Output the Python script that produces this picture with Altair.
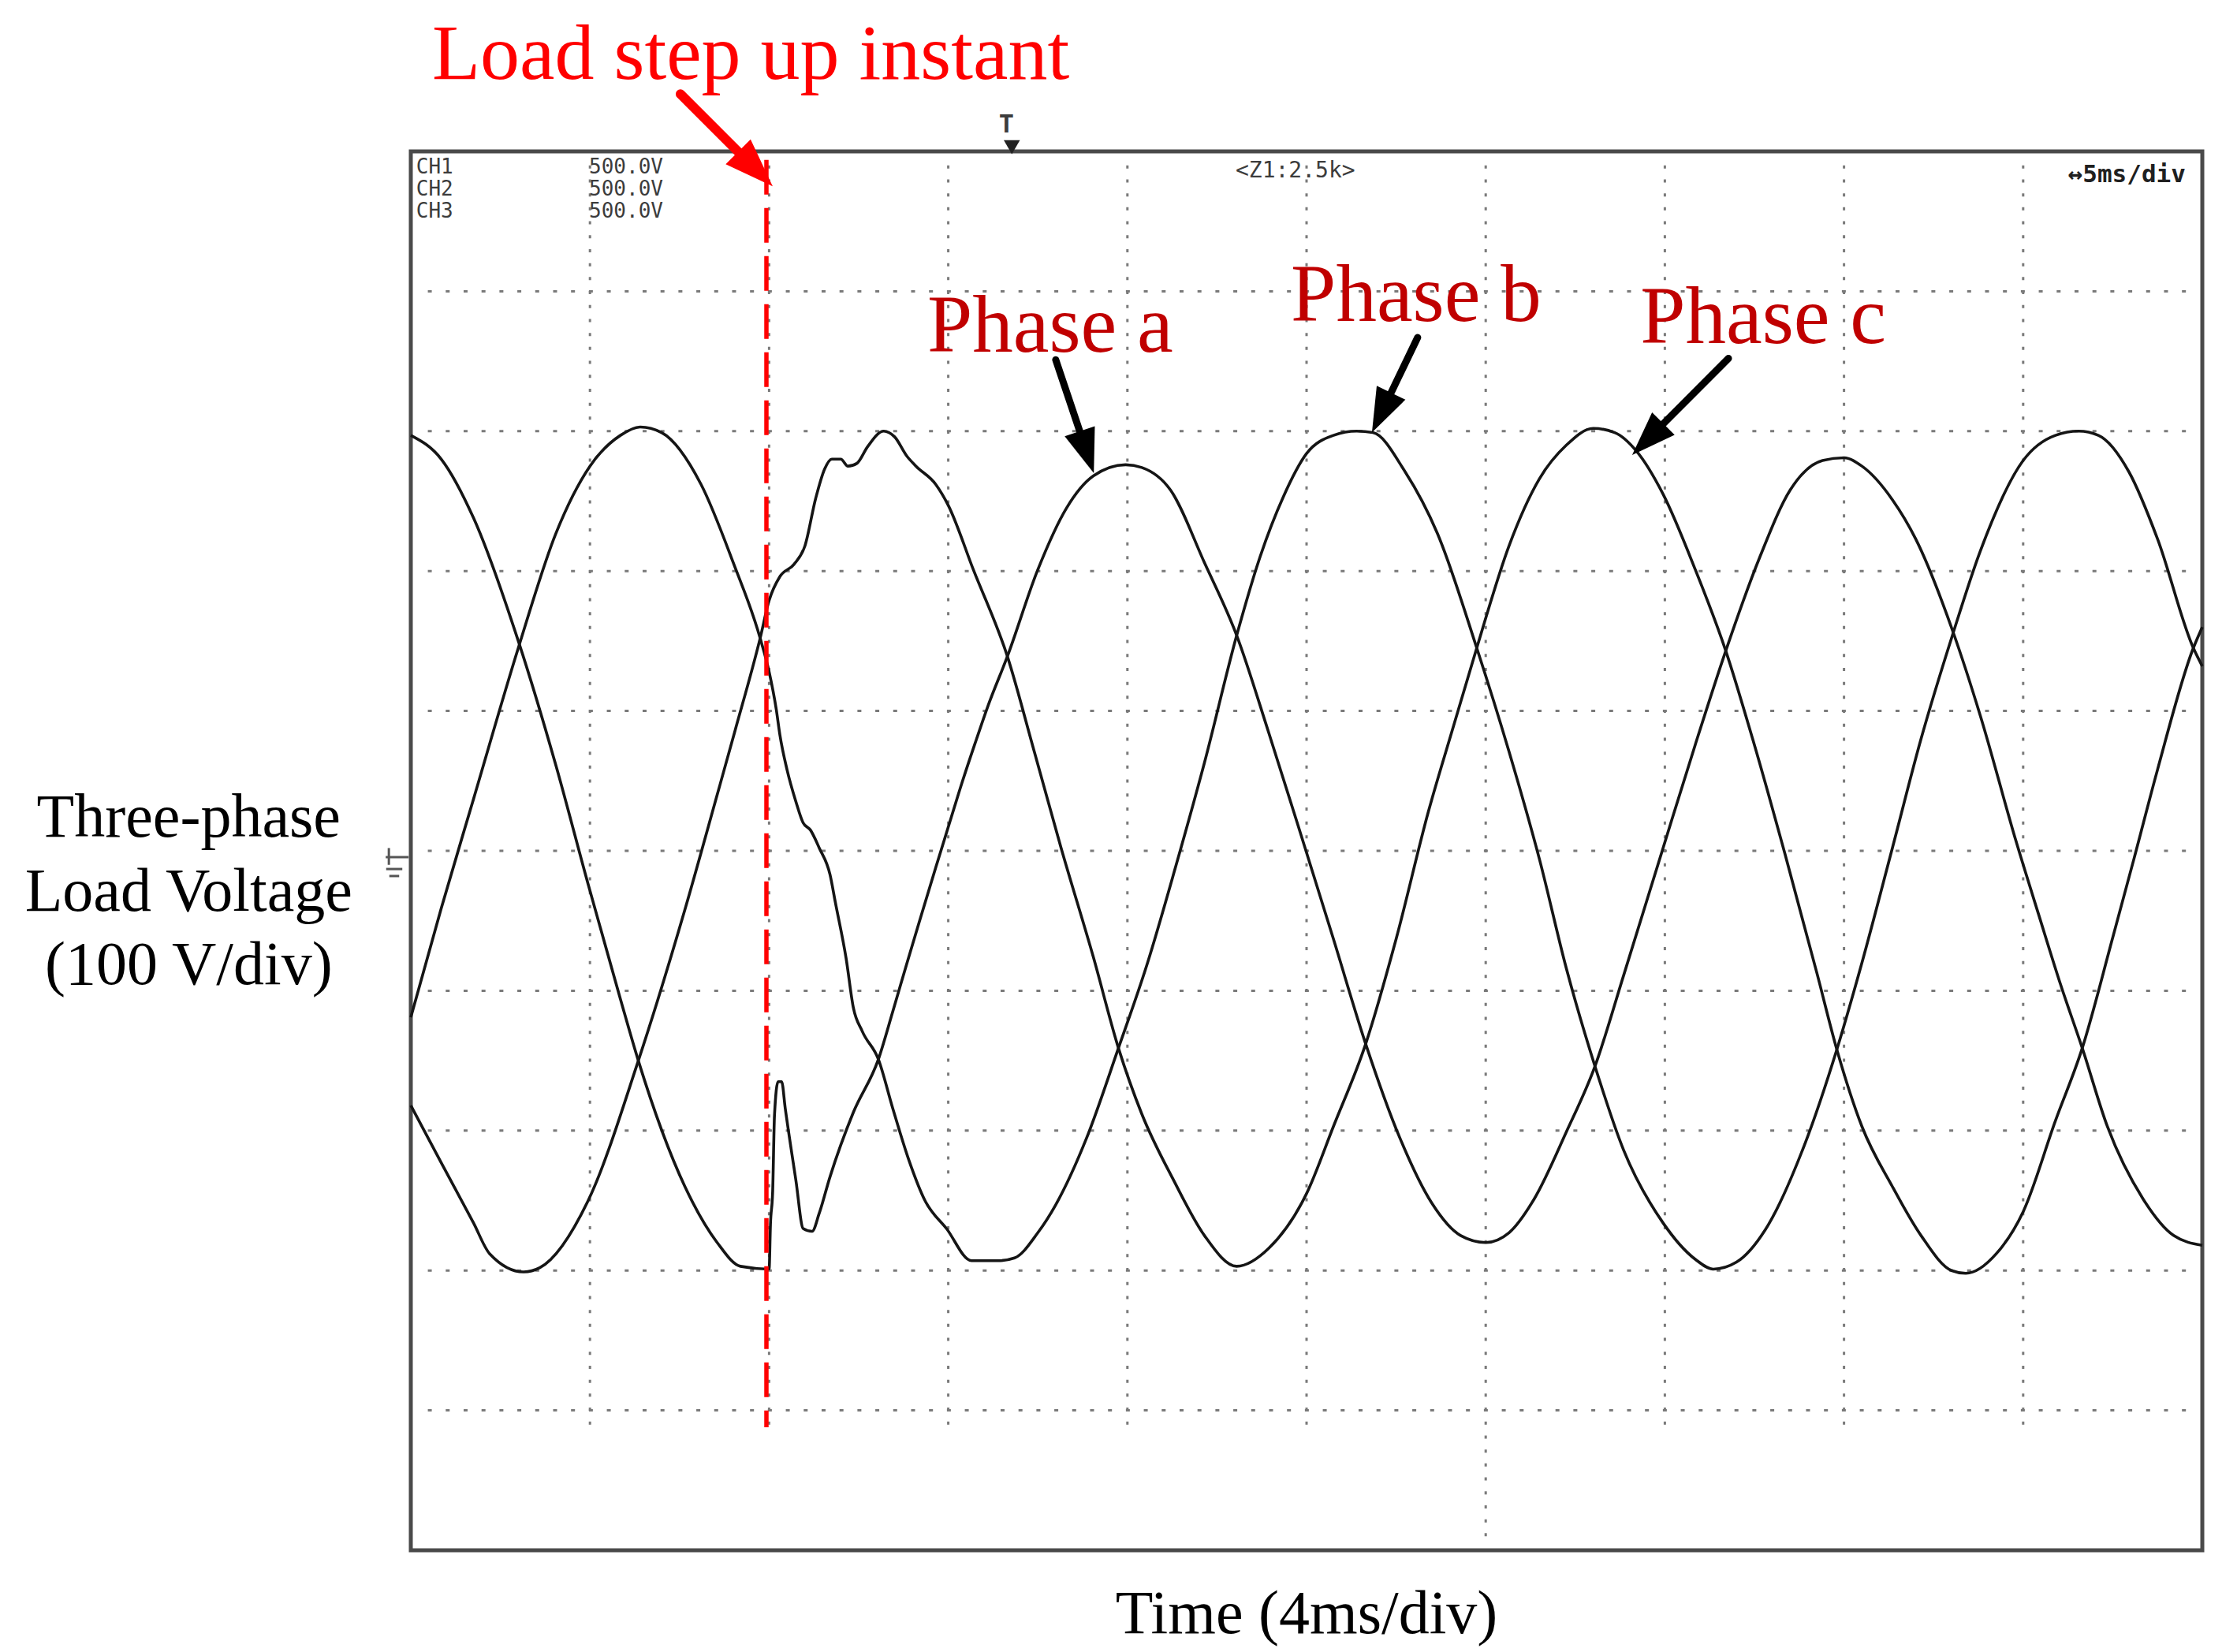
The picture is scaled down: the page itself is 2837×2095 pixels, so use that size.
import math
import altair as alt
import pandas as pd

# ---------------- data (time in ms, voltage in V) ----------------
PHASE_A = [(0.00, 297), (0.68, 280), (1.40, 238), (2.40, 150), (3.24, 61), (3.96, -24), (4.68, -106),
           (5.08, -150), (6.12, -240), (6.84, -280), (7.36, -297), (8.00, -299), (8.03, -267), (8.08, -243),
           (8.12, -189), (8.20, -165), (8.28, -165), (8.36, -184), (8.60, -236), (8.76, -270), (8.96, -272),
           (9.12, -259), (9.36, -233), (9.88, -187), (10.44, -149), (10.76, -115), (11.08, -80), (11.36, -50),
           (11.72, -12), (12.00, 17), (12.32, 50), (12.60, 77), (12.88, 103), (13.32, 139), (14.00, 201),
           (14.64, 245), (15.24, 268), (15.96, 276), (16.32, 274), (16.96, 258), (17.72, 206), (18.44, 154),
           (19.16, 84), (19.88, 11), (20.60, -63), (21.32, -138), (22.08, -205), (22.80, -252), (23.44, -275),
           (24.00, -280), (24.52, -273), (25.08, -249), (25.80, -201), (26.44, -154), (27.08, -89), (27.96, 2),
           (28.68, 76), (29.36, 143), (30.12, 210), (30.80, 258), (31.52, 279), (32.00, 281), (32.40, 275),
           (33.08, 251), (33.60, 223), (34.44, 156), (35.04, 97), (35.84, 7), (36.36, -47), (36.84, -96),
           (37.32, -141), (37.88, -197), (38.68, -249), (39.36, -275), (40.00, -282)]

PHASE_B = [(0.00, -119), (0.68, -41), (1.40, 37), (2.40, 145), (3.24, 227), (4.00, 275), (4.68, 297),
           (5.12, 303), (5.60, 299), (6.48, 262), (7.20, 206), (7.80, 152), (8.00, 128), (8.16, 101),
           (8.24, 83), (8.40, 58), (8.60, 35), (8.76, 20), (8.92, 15), (9.12, 2), (9.36, -17), (9.48, -37),
           (9.72, -77), (9.88, -112), (10.08, -129), (10.44, -149), (10.76, -184), (11.12, -221),
           (11.48, -250), (11.96, -270), (12.52, -293), (13.12, -293), (13.48, -291), (14.00, -273),
           (14.40, -253), (15.08, -206), (15.80, -141), (16.44, -81), (17.08, -11), (17.72, 63), (18.44, 154),
           (18.96, 210), (19.48, 253), (20.00, 284), (20.60, 297), (21.12, 300), (21.48, 299), (22.20, 271),
           (22.92, 227), (23.80, 145), (24.52, 71), (25.20, -6), (25.80, -84), (26.44, -154), (27.08, -214),
           (27.96, -266), (28.68, -292), (29.08, -299), (29.60, -294), (30.24, -271), (31.12, -210),
           (31.84, -142), (32.40, -80), (33.08, 2), (33.72, 80), (34.44, 156), (35.04, 214), (36.00, 279),
           (36.72, 297), (37.24, 300), (37.68, 297), (38.36, 271), (39.00, 223), (39.80, 145), (40.00, 132)]

PHASE_C = [(0.00, -182), (0.68, -223), (1.40, -266), (1.76, -288), (2.52, -301), (2.88, -298), (3.96, -250),
           (5.08, -150), (6.12, -42), (6.84, 40), (7.24, 86), (7.80, 152), (8.00, 179), (8.24, 196),
           (8.56, 205), (8.80, 218), (9.04, 252), (9.24, 273), (9.40, 280), (9.60, 280), (9.76, 275),
           (9.96, 277), (10.20, 289), (10.56, 300), (10.80, 296), (11.08, 282), (11.28, 275), (11.72, 262),
           (12.00, 247), (12.56, 201), (13.32, 139), (13.92, 71), (14.52, 2), (15.24, -76), (15.80, -141),
           (16.32, -188), (17.04, -236), (17.72, -275), (18.44, -297), (19.16, -284), (20.00, -245),
           (20.60, -197), (21.32, -138), (22.00, -63), (22.72, 28), (23.28, 89), (23.80, 145), (24.52, 218),
           (25.20, 266), (25.80, 290), (26.40, 302), (26.88, 299), (27.36, 286), (27.96, 255), (28.68, 201),
           (29.36, 143), (29.96, 80), (30.68, -2), (31.40, -88), (31.84, -142), (32.40, -197), (33.08, -240),
           (33.72, -275), (34.40, -300), (34.72, -302), (35.40, -288), (36.00, -258), (36.72, -193),
           (37.32, -141), (38.00, -62), (38.48, -5), (39.00, 58), (39.80, 145), (40.00, 160)]

GRID_V = [-400, -300, -200, -100, 0, 100, 200, 300, 400]     # horizontal graticule (V)
GRID_T = [4, 8, 12, 16, 20, 24, 28, 32, 36]                  # vertical graticule (ms)
STEP_T = 7.94                                                # load step instant (ms)

LOAD_TEXT = [("Load step up instant", 7.59, 552)]
PHASE_TEXT = [("Phase a", 11.53, 357), ("Phase b", 19.65, 379), ("Phase c", 27.45, 363)]
TITLES = [("Three-phase", -4.96, 10), ("Load Voltage", -4.96, -43), ("(100 V/div)", -4.96, -95),
          ("Time (4ms/div)", 20.0, -559)]
SCOPE_TEXT = [("CH1", 0.12, 489), ("CH2", 0.12, 473), ("CH3", 0.12, 457),
              ("500.0V", 3.98, 489), ("500.0V", 3.98, 473), ("500.0V", 3.98, 457)]
ZOOM_TEXT = [("<Z1:2.5k>", 19.75, 486)]
TDIV_TEXT = [("\u21945ms/div", 37.0, 483)]
TRIG_TEXT = [("T", 13.30, 519)]
TRIG_MARK = [(13.42, 503)]
# arrows: name, start (ms, V), tip (ms, V)
ARROWS = [("load", 6.02, 541, 8.08, 475), ("a", 14.40, 351, 15.25, 270),
          ("b", 22.48, 367, 21.46, 299), ("c", 29.42, 352, 27.27, 283)]
GROUND = [(-0.56, -4.5, -0.05, -4.5), (-0.49, 2, -0.49, -10), (-0.55, -13, -0.19, -13), (-0.48, -18, -0.26, -18)]

# ---------------- layout ----------------
W, H = 2272, 1774
T_DOM, V_DOM = [0, 40], [-500, 500]
PX_T = W / (T_DOM[1] - T_DOM[0])
PX_V = H / (V_DOM[1] - V_DOM[0])
xs = alt.Scale(domain=T_DOM, nice=False, zero=False)
ys = alt.Scale(domain=V_DOM, nice=False, zero=False)


def X(f):
    return alt.X(f, type="quantitative", scale=xs, axis=None)


def Y(f):
    return alt.Y(f, type="quantitative", scale=ys, axis=None)


hgrid = pd.DataFrame({"v": GRID_V, "t0": [0.38] * len(GRID_V), "t1": [39.7] * len(GRID_V)})
vgrid = pd.DataFrame({"t": GRID_T, "v0": [490] * len(GRID_T),
                      "v1": [-493 if t == 24 else -412 for t in GRID_T]})

hgrid_l = alt.Chart(hgrid).mark_rule(color="#7a7a7a", strokeWidth=3, strokeDash=[5, 17.7]).encode(
    x=X("t0"), x2="t1", y=Y("v"))
vgrid_l = alt.Chart(vgrid).mark_rule(color="#7a7a7a", strokeWidth=3, strokeDash=[4, 13.7]).encode(
    x=X("t"), y=Y("v0"), y2="v1")

rows = []
for name, pts in (("a", PHASE_A), ("b", PHASE_B), ("c", PHASE_C)):
    for i, (t, v) in enumerate(pts):
        rows.append({"phase": name, "t": t, "v": v, "i": i})
traces = pd.DataFrame(rows)
trace_l = alt.Chart(traces).mark_line(color="#151515", strokeWidth=3.6, interpolate="monotone").encode(
    x=X("t"), y=Y("v"), detail="phase:N", order="i:Q")

step_l = alt.Chart(pd.DataFrame({"t": [STEP_T], "v0": [494], "v1": [-412]})).mark_rule(
    color="#ff0000", strokeWidth=5.5, strokeDash=[44, 17]).encode(x=X("t"), y=Y("v0"), y2="v1")

shafts, heads = [], []
for name, t0, v0, t1, v1 in ARROWS:
    dx, dy = (t1 - t0) * PX_T, -(v1 - v0) * PX_V
    L = math.hypot(dx, dy)
    ux, uy = dx / L, dy / L
    hl = 62 if name == "load" else 56
    col = "#ff0000" if name == "load" else "#000000"
    shafts.append({"t0": t0, "v0": v0, "t1": t1 - ux * hl * 0.6 / PX_T, "v1": v1 + uy * hl * 0.6 / PX_V,
                   "col": col, "w": 12 if name == "load" else 9})
    heads.append({"t": t1 - ux * hl / 2 / PX_T, "v": v1 + uy * hl / 2 / PX_V, "col": col,
                  "ang": math.degrees(math.atan2(ux, -uy)) % 360, "size": hl * hl})
shaft_l = alt.Chart(pd.DataFrame(shafts)).mark_rule(strokeCap="round").encode(
    x=X("t0"), y=Y("v0"), x2="t1", y2="v1",
    color=alt.Color("col:N", scale=None), strokeWidth=alt.StrokeWidth("w:Q", scale=None))
head_l = alt.Chart(pd.DataFrame(heads)).mark_point(
    shape="M0,-1L0.72,1L-0.72,1Z", filled=True, opacity=1, strokeWidth=0).encode(
    x=X("t"), y=Y("v"), color=alt.Color("col:N", scale=None),
    angle=alt.Angle("ang:Q", scale=None), size=alt.Size("size:Q", scale=None))

ground_l = alt.Chart(pd.DataFrame(GROUND, columns=["t0", "v0", "t1", "v1"])).mark_rule(
    color="#555555", strokeWidth=3).encode(x=X("t0"), y=Y("v0"), x2="t1", y2="v1")


def text_layer(items, **kw):
    df = pd.DataFrame(items, columns=["txt", "t", "v"])
    return alt.Chart(df).mark_text(**kw).encode(x=X("t"), y=Y("v"), text="txt:N")


load_l = text_layer(LOAD_TEXT, font="Liberation Serif", fontSize=100, color="#ff0000",
                    align="center", baseline="alphabetic")
phase_l = text_layer(PHASE_TEXT, font="Liberation Serif", fontSize=103, color="#c00000",
                     align="left", baseline="alphabetic")
title_l = text_layer(TITLES, font="Liberation Serif", fontSize=78, color="#000000",
                     align="center", baseline="alphabetic")
scope_l = text_layer(SCOPE_TEXT, font="DejaVu Sans Mono", fontSize=26, color="#3c3c3c",
                     align="left", baseline="middle")
zoom_l = text_layer(ZOOM_TEXT, font="DejaVu Sans Mono", fontSize=28, color="#3c3c3c",
                    align="center", baseline="middle")
tdiv_l = text_layer(TDIV_TEXT, font="DejaVu Sans Mono", fontSize=31, fontWeight="bold", color="#202020",
                    align="left", baseline="middle")
trig_l = text_layer(TRIG_TEXT, font="DejaVu Sans Mono", fontSize=32, fontWeight="bold", color="#3c3c3c",
                    align="center", baseline="middle")
trigm_l = alt.Chart(pd.DataFrame(TRIG_MARK, columns=["t", "v"])).mark_point(
    shape="triangle-down", filled=True, opacity=1, size=420, color="#222222").encode(x=X("t"), y=Y("v"))

chart = alt.layer(
    hgrid_l, vgrid_l, ground_l, trace_l, step_l, shaft_l, head_l,
    load_l, phase_l, title_l, scope_l, zoom_l, tdiv_l, trig_l, trigm_l
).properties(
    width=W, height=H,
    autosize=alt.AutoSizeParams(type="none"),
    padding={"left": 513, "top": 184, "right": 20, "bottom": 124},
    background="white",
).configure_view(stroke="#4a4a4a", strokeWidth=5)

chart.save("out.html", embed_options={"renderer": "svg", "actions": False})
